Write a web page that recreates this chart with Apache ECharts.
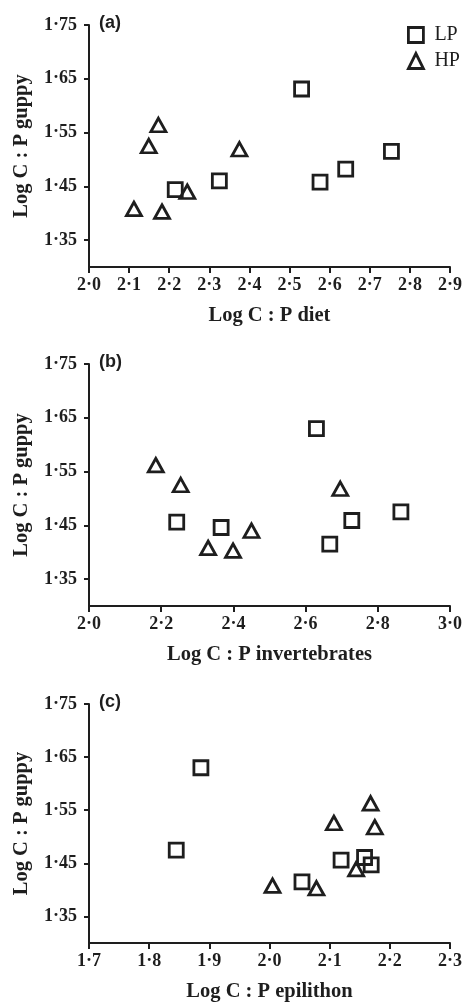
<!DOCTYPE html>
<html>
<head>
<meta charset="utf-8">
<script src="https://cdn.jsdelivr.net/npm/echarts@6/dist/echarts.min.js"></script>
<style>
html,body{margin:0;padding:0;background:#fff;}
#chart{width:465px;height:1003px;}
</style>
</head>
<body>
<div id="chart"></div>
<script>
// ---- data ----
const yTicks = [1.35, 1.45, 1.55, 1.65, 1.75];

// (a) diet
const dietTicks = [2.0, 2.1, 2.2, 2.3, 2.4, 2.5, 2.6, 2.7, 2.8, 2.9];
const dietLP_x = [2.215, 2.325, 2.530, 2.576, 2.640, 2.754];
const dietLP_y = [1.444, 1.460, 1.631, 1.458, 1.482, 1.515];
const dietHP_x = [2.112, 2.149, 2.173, 2.182, 2.245, 2.375];
const dietHP_y = [1.408, 1.525, 1.564, 1.403, 1.440, 1.519];

// (b) invertebrates
const invTicks = [2.0, 2.2, 2.4, 2.6, 2.8, 3.0];
const invLP_x = [2.243, 2.366, 2.630, 2.667, 2.728, 2.864];
const invLP_y = [1.456, 1.446, 1.630, 1.415, 1.459, 1.475];
const invHP_x = [2.185, 2.254, 2.330, 2.399, 2.450, 2.696];
const invHP_y = [1.562, 1.525, 1.408, 1.403, 1.440, 1.518];

// (c) epilithon
const epiTicks = [1.7, 1.8, 1.9, 2.0, 2.1, 2.2, 2.3];
const epiLP_x = [1.845, 1.886, 2.054, 2.119, 2.158, 2.169];
const epiLP_y = [1.475, 1.630, 1.415, 1.456, 1.461, 1.447];
const epiHP_x = [2.005, 2.078, 2.107, 2.144, 2.168, 2.175];
const epiHP_y = [1.408, 1.403, 1.526, 1.439, 1.563, 1.518];

const panelLabels = ['(a)', '(b)', '(c)'];
const xNames = ['Log C : P diet', 'Log C : P invertebrates', 'Log C : P epilithon'];
const yName = 'Log C : P guppy';

// ---- chart ----
const pairs = (xs, ys) => xs.map((x, i) => [x, ys[i]]);
const panels = [
  {ticks: dietTicks, lp: pairs(dietLP_x, dietLP_y), hp: pairs(dietHP_x, dietHP_y)},
  {ticks: invTicks, lp: pairs(invLP_x, invLP_y), hp: pairs(invHP_x, invHP_y)},
  {ticks: epiTicks, lp: pairs(epiLP_x, epiLP_y), hp: pairs(epiHP_x, epiHP_y)}
];
const tops = [25, 364, 704];
const gridH = 242;
const ink = '#1e1e1e';
const serif = 'Liberation Serif';
const fmt = d => v => Number(v).toFixed(d).replace('.', '\u00B7');

const grids = [], xAxes = [], yAxes = [], series = [], graphics = [];
panels.forEach((p, i) => {
  grids.push({left: 89, right: 12, top: tops[i], height: gridH, containLabel: false});
  const axisCommon = {
    axisLine: {show: true, onZero: false, lineStyle: {color: ink, width: 2}},
    axisTick: {show: true, inside: false, length: 5, lineStyle: {color: ink, width: 2}},
    splitLine: {show: false},
    nameTextStyle: {fontFamily: serif, fontWeight: 'bold', fontSize: 20.5, color: ink}
  };
  xAxes.push(Object.assign({}, axisCommon, {
    type: 'value', gridIndex: i,
    min: p.ticks[0], max: p.ticks[p.ticks.length - 1],
    name: xNames[i], nameLocation: 'middle', nameGap: 38,
    axisTick: Object.assign({}, axisCommon.axisTick, {customValues: p.ticks, length: 6}),
    axisLabel: {customValues: p.ticks, formatter: fmt(1), margin: 9,
      fontFamily: serif, fontWeight: 'bold', fontSize: 18, color: ink}
  }));
  yAxes.push(Object.assign({}, axisCommon, {
    type: 'value', gridIndex: i,
    min: 1.30, max: 1.75,
    name: yName, nameLocation: 'middle', nameGap: 57, nameRotate: 90,
    axisTick: Object.assign({}, axisCommon.axisTick, {customValues: yTicks}),
    axisLabel: {customValues: yTicks, formatter: fmt(2), margin: 12,
      fontFamily: serif, fontWeight: 'bold', fontSize: 18, color: ink}
  }));
  const mk = (name, symbol, size, data) => ({
    name, type: 'scatter', xAxisIndex: i, yAxisIndex: i, data,
    symbol, symbolSize: size,
    itemStyle: {color: 'rgba(0,0,0,0)', borderColor: ink, borderWidth: 2.8, opacity: 1},
    emphasis: {disabled: true}
  });
  series.push(mk('LP', 'rect', 14, p.lp));
  series.push(mk('HP', 'triangle', [15, 13.5], p.hp));
  graphics.push({
    type: 'text', left: 99, top: tops[i] - 11,
    style: {text: panelLabels[i], fontFamily: 'Liberation Sans', fontWeight: 'bold',
      fontSize: 18, fill: ink}
  });
});

const chart = echarts.init(document.getElementById('chart'), null, {renderer: 'canvas'});
chart.setOption({
  animation: false,
  backgroundColor: '#fff',
  grid: grids,
  xAxis: xAxes,
  yAxis: yAxes,
  series: series,
  graphic: graphics,
  legend: {
    data: ['LP', 'HP'], orient: 'vertical', left: 402, top: 20,
    itemWidth: 15, itemHeight: 15, itemGap: 6,
    itemStyle: {borderWidth: 2.8},
    textStyle: {fontFamily: serif, fontSize: 20, color: ink, padding: [0, 0, 0, 6]},
    selectedMode: false
  }
});
</script>
</body>
</html>
